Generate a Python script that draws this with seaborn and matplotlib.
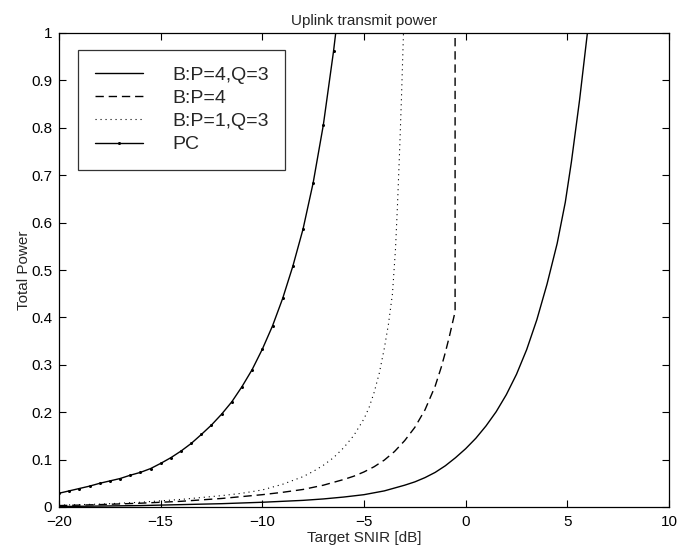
import matplotlib
matplotlib.use('Agg')
import matplotlib.pyplot as plt
import seaborn as sns
import pandas as pd

# data
snir_pc = [-20, -19.5, -19, -18.5, -18, -17.5, -17, -16.5, -16, -15.5, -15, -14.5,
           -14, -13.5, -13, -12.5, -12, -11.5, -11, -10.5, -10, -9.5, -9, -8.5,
           -8, -7.5, -7, -6.5, -6]
power_pc = [0.029, 0.034, 0.039, 0.044, 0.050, 0.055, 0.060, 0.067, 0.073, 0.081,
            0.092, 0.104, 0.118, 0.134, 0.153, 0.173, 0.196, 0.222, 0.254, 0.290,
            0.333, 0.382, 0.440, 0.508, 0.586, 0.684, 0.806, 0.961, 1.14]

snir_b43 = [-20, -18, -16, -14, -12, -10, -9, -8, -7, -6, -5, -4.5, -4, -3.5, -3,
            -2.5, -2, -1.5, -1, -0.5, 0, 0.5, 1, 1.5, 2, 2.5, 3, 3.5, 4, 4.5,
            4.9, 5.2, 5.6, 6.0]
power_b43 = [0.001, 0.002, 0.003, 0.005, 0.007, 0.010, 0.012, 0.014, 0.017, 0.021,
             0.026, 0.030, 0.034, 0.040, 0.046, 0.053, 0.062, 0.073, 0.087, 0.104,
             0.123, 0.145, 0.171, 0.201, 0.237, 0.280, 0.332, 0.395, 0.470, 0.556,
             0.643, 0.728, 0.858, 1.005]

snir_b4 = [-20, -18, -16, -14, -12, -11, -10, -9, -8, -7, -6, -5.5, -5, -4.5, -4,
           -3.5, -3, -2.5, -2, -1.5, -1.2, -1.0, -0.8, -0.65, -0.52, -0.52]
power_b4 = [0.003, 0.005, 0.008, 0.012, 0.018, 0.022, 0.026, 0.031, 0.037, 0.046,
            0.058, 0.065, 0.074, 0.085, 0.099, 0.117, 0.140, 0.168, 0.205, 0.255,
            0.295, 0.326, 0.360, 0.388, 0.412, 1.05]

snir_b13 = [-20, -18, -16, -14, -13, -12, -11, -10, -9, -8, -7.5, -7, -6.5, -6,
            -5.5, -5, -4.75, -4.5, -4.25, -4, -3.8, -3.6, -3.45, -3.35, -3.25,
            -3.16, -3.08, -3.02]
power_b13 = [0.004, 0.006, 0.010, 0.016, 0.020, 0.024, 0.029, 0.036, 0.048, 0.064,
             0.075, 0.088, 0.104, 0.125, 0.151, 0.186, 0.210, 0.242, 0.282, 0.335,
             0.385, 0.450, 0.545, 0.640, 0.750, 0.860, 0.970, 1.05]

x_ticks = [-20, -15, -10, -5, 0, 5, 10]
y_ticks = [0, 0.1, 0.2, 0.3, 0.4, 0.5, 0.6, 0.7, 0.8, 0.9, 1]
y_ticklabels = ['0', '0.1', '0.2', '0.3', '0.4', '0.5', '0.6', '0.7', '0.8', '0.9', '1']

sns.set_style('ticks')
plt.rcParams['font.family'] = ['Liberation Sans', 'DejaVu Sans']

fig = plt.figure(figsize=(6.9, 5.53), dpi=100)
ax = fig.add_axes([59/690, 46/553, 610/690, 474/553])

def df(x, y):
    return pd.DataFrame({'snir': x, 'power': y})

sns.lineplot(data=df(snir_b43, power_b43), x='snir', y='power', ax=ax, color='black',
             lw=1.0, estimator=None, sort=False, label='B:P=4,Q=3')
sns.lineplot(data=df(snir_b4, power_b4), x='snir', y='power', ax=ax, color='black',
             lw=1.0, estimator=None, sort=False, label='B:P=4')
ax.lines[-1].set_dashes([6, 3.5])
sns.lineplot(data=df(snir_b13, power_b13), x='snir', y='power', ax=ax, color='black',
             lw=0.8, estimator=None, sort=False, label='B:P=1,Q=3')
ax.lines[-1].set_dashes([1, 3.5])
sns.lineplot(data=df(snir_pc, power_pc), x='snir', y='power', ax=ax, color='black',
             lw=1.0, estimator=None, sort=False, marker='o', markersize=2.2,
             markeredgewidth=0, label='PC')

ax.set_xlim(-20, 10)
ax.set_ylim(0, 1)
ax.set_xticks(x_ticks)
ax.set_yticks(y_ticks)
ax.set_yticklabels(y_ticklabels)
ax.tick_params(direction='in', length=5, width=0.8, top=True, right=True,
               labelsize=11, colors='black')
ax.tick_params(axis='x', pad=6)
ax.tick_params(axis='y', pad=5)
for s in ax.spines.values():
    s.set_visible(True)
    s.set_color('black')
    s.set_linewidth(0.9)

ax.set_xlabel('Target SNIR [dB]', fontsize=11, labelpad=1)
ax.set_ylabel('Total Power', fontsize=11, labelpad=0)
ax.set_title('Uplink transmit power', fontsize=11, pad=6)

leg = ax.legend(loc='upper left', bbox_to_anchor=(19/610, 1 - 17/474), borderaxespad=0,
                fontsize=14, handlelength=2.5, handletextpad=1.5, labelspacing=0.28,
                borderpad=0.85, frameon=True, fancybox=False, edgecolor='black')
leg.get_frame().set_linewidth(0.9)

fig.savefig('out.png', dpi=100, facecolor='white')
